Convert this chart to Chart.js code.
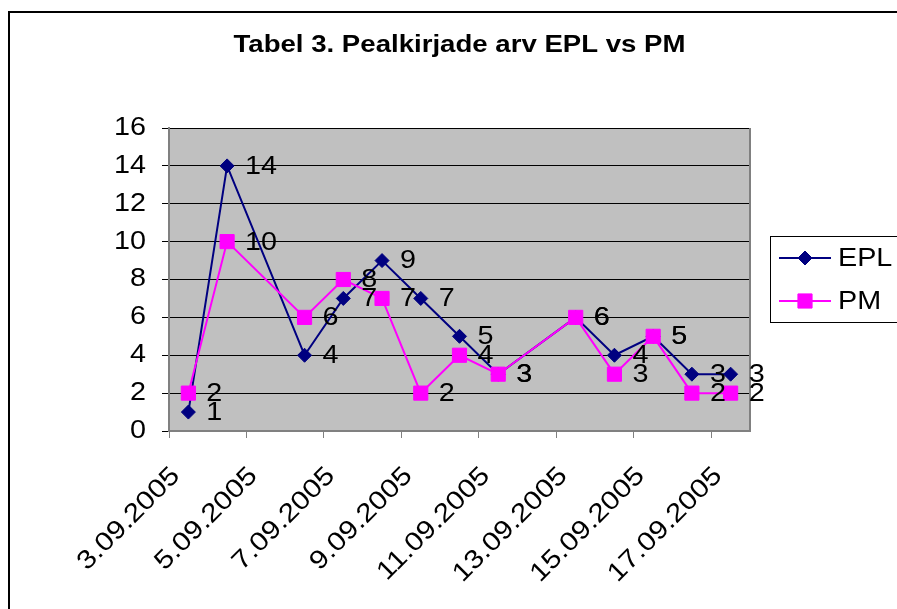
<!DOCTYPE html>
<html>
<head>
<meta charset="utf-8">
<script src="https://cdn.jsdelivr.net/npm/chart.js@4"></script>
<style>
  html, body { margin: 0; padding: 0; background: #fff; }
  canvas { display: block; }
</style>
</head>
<body>
<canvas id="chart" width="897" height="609"></canvas>
<script>
const TITLE = "Tabel 3. Pealkirjade arv EPL vs PM";

const dates = [
    "3.09.2005", "4.09.2005", "6.09.2005", "7.09.2005", "8.09.2005",
    "9.09.2005", "10.09.2005", "11.09.2005", "13.09.2005", "14.09.2005",
    "15.09.2005", "16.09.2005", "17.09.2005",
]
const epl = [1, 14, 4, 7, 9, 7, 5, 3, 6, 4, 5, 3, 3];
const pm = [2, 10, 6, 8, 7, 2, 4, 3, 6, 3, 5, 2, 2];

const xTickLabels = [
    "3.09.2005", "5.09.2005", "7.09.2005", "9.09.2005",
    "11.09.2005", "13.09.2005", "15.09.2005", "17.09.2005",
];
const yTicks = [0, 2, 4, 6, 8, 10, 12, 14, 16];

const FONT = "'Liberation Sans', Arial, sans-serif";
const STRETCH = 1.15; // the old Excel text is drawn a bit wide

// day number from "d.mm.yyyy"; points sit in the middle of their day (Excel style)
const dayOf = s => parseInt(s.split(".")[0], 10);
const toPoints = vals => vals.map((v, i) => ({ x: dayOf(dates[i]) + 0.5, y: v }));

const series = [
    { label: "EPL", data: epl, color: "#000080", style: "rectRot", radius: 7, order: 1 },
    { label: "PM", data: pm, color: "#FF00FF", style: "rect", radius: 10, order: 0 },
];

const canvas = document.getElementById("chart");
const ctx0 = canvas.getContext("2d");
// widen every text along its own baseline, keeps the anchor point
const plainFillText = ctx0.fillText;
ctx0.fillText = function (text, x, y) {
    this.save();
    this.translate(x, y);
    this.scale(STRETCH, 1);
    plainFillText.call(this, text, 0, 0);
    this.restore();
};

const frame = {
    id: "frame",
    beforeDraw(chart) {
        const { ctx, chartArea: a } = chart;
        ctx.save();
        ctx.fillStyle = "#fff";
        ctx.fillRect(0, 0, chart.width, chart.height);
        ctx.fillStyle = "#C0C0C0";
        ctx.fillRect(a.left, a.top, a.right - a.left, a.bottom - a.top);
        ctx.strokeStyle = "#000";
        ctx.lineWidth = 2;
        ctx.strokeRect(9, 12, 1200, 1200);
        // title
        ctx.fillStyle = "#000";
        ctx.font = "bold 24px " + FONT;
        ctx.textAlign = "center";
        ctx.textBaseline = "alphabetic";
        ctx.fillText(TITLE, (a.left + a.right) / 2, 52);
        ctx.restore();
    },
    afterDraw(chart) {
        const { ctx, chartArea: a } = chart;
        ctx.save();
        // plot border
        ctx.strokeStyle = "#808080";
        ctx.lineWidth = 2;
        ctx.beginPath();
        ctx.moveTo(a.right, a.top);
        ctx.lineTo(a.right, a.bottom);
        ctx.stroke();

        // data labels
        ctx.fillStyle = "#000";
        ctx.font = "25px " + FONT;
        ctx.textAlign = "left";
        ctx.textBaseline = "middle";
        chart.data.datasets.forEach((ds, di) => {
            chart.getDatasetMeta(di).data.forEach((pt, i) => {
                ctx.fillText(String(ds.data[i].y), pt.x + 18, pt.y + 1);
            });
        });

        // legend
        const lx = 770, ly = 236;
        ctx.strokeStyle = "#000";
        ctx.lineWidth = 1;
        ctx.strokeRect(lx + 0.5, ly + 0.5, 200, 86);
        series.forEach((s, i) => {
            const y = ly + 22 + i * 43;
            ctx.strokeStyle = s.color;
            ctx.fillStyle = s.color;
            ctx.lineWidth = 2;
            ctx.beginPath();
            ctx.moveTo(lx + 9, y);
            ctx.lineTo(lx + 61, y);
            ctx.stroke();
            ctx.lineWidth = 1;
            Chart.helpers.drawPoint(ctx, { pointStyle: s.style, radius: s.radius, rotation: 0, borderWidth: 1 }, lx + 35, y);
            ctx.fillStyle = "#000";
            ctx.fillText(s.label, lx + 68, y + 1);
        });
        ctx.restore();
    }
};

new Chart(canvas, {
    type: "line",
    data: {
        datasets: series.map(s => ({
            label: s.label,
            data: toPoints(s.data),
            borderColor: s.color,
            backgroundColor: s.color,
            borderWidth: 2,
            pointStyle: s.style,
            pointRadius: s.radius,
            pointHoverRadius: s.radius,
            pointBorderWidth: 1,
            tension: 0,
            order: s.order,
        }))
    },
    options: {
        responsive: false,
        animation: false,
        events: [],
        layout: { padding: { top: 128, right: 147, left: 0, bottom: 0 } },
        plugins: {
            legend: { display: false },
            title: { display: false },
            tooltip: { enabled: false },
        },
        scales: {
            x: {
                type: "linear",
                min: 3,
                max: 18,
                afterFit: s => { s.height = 178; },
                afterBuildTicks: s => { s.ticks = xTickLabels.map(l => ({ value: dayOf(l) })); },
                ticks: {
                    color: "#000",
                    font: { family: FONT, size: 26 },
                    minRotation: 45,
                    maxRotation: 45,
                    padding: 23,
                    labelOffset: 7,
                    callback: (v, i) => xTickLabels[i],
                },
                grid: { drawOnChartArea: false, color: "#808080", tickLength: 7 },
                border: { color: "#808080", width: 2 },
            },
            y: {
                min: 0,
                max: 16,
                afterFit: s => { s.width = 169; },
                afterBuildTicks: s => { s.ticks = yTicks.map(v => ({ value: v })); },
                ticks: {
                    color: "#000",
                    font: { family: FONT, size: 25 },
                    padding: 16,
                },
                grid: { color: "#000", lineWidth: 1, tickLength: 7 },
                border: { color: "#808080", width: 2 },
            }
        }
    },
    plugins: [frame]
});
</script>
</body>
</html>
